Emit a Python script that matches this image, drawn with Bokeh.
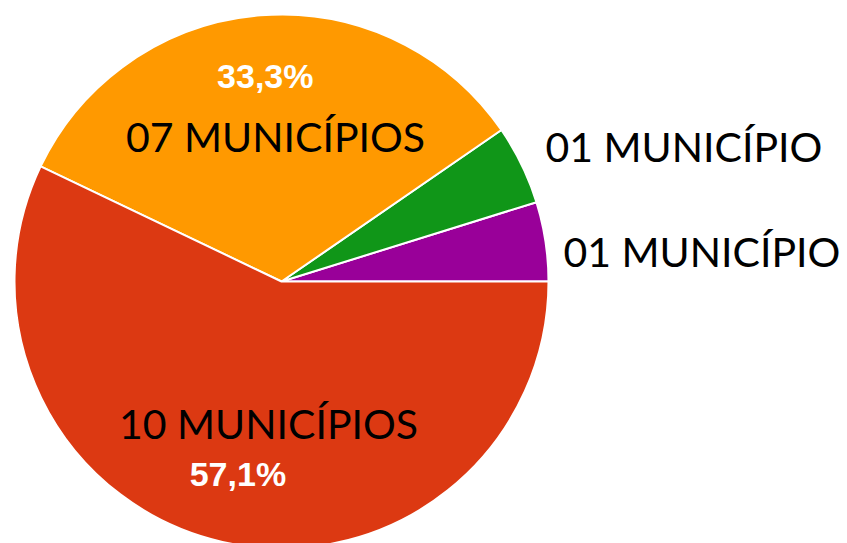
import math
from bokeh.plotting import figure
from bokeh.models import ColumnDataSource, Range1d
from bokeh.core.properties import value
from bokeh.embed import file_html
from bokeh.resources import INLINE

# Data (counter-clockwise from 3 o'clock)
slices = ["purple", "green", "orange", "red"]
percents = [4.8, 4.8, 33.3, 57.1]
colors = ["#990099", "#109618", "#FF9900", "#DC3912"]
pct_labels = ["", "", "33,3%", "57,1%"]
big_labels = ["01 MUNICÍPIO", "01 MUNICÍPIO", "07 MUNICÍPIOS", "10 MUNICÍPIOS"]

W, H = 847, 543
cx, cy, R = 281, H - 281, 267

total = sum(percents)
starts, ends = [], []
acc = 0.0
for v in percents:
    starts.append(2 * math.pi * acc / total)
    acc += v
    ends.append(2 * math.pi * acc / total)

p = figure(width=W, height=H, output_backend="svg", toolbar_location=None,
           x_range=Range1d(0, W), y_range=Range1d(0, H), min_border=0)
p.axis.visible = False
p.grid.visible = False
p.outline_line_color = None
p.background_fill_color = "white"

src = ColumnDataSource(dict(start=starts, end=ends, color=colors))
p.wedge(x=cx, y=cy, radius=R, start_angle="start", end_angle="end",
        fill_color="color", line_color="white", line_width=2, source=src)

# percent labels inside slices, along mid-angle
label_r = [0.75, 0.75, 0.773, 0.738]
px, py, pt = [], [], []
for s, e, t, fr in zip(starts, ends, pct_labels, label_r):
    if not t:
        continue
    m = (s + e) / 2
    px.append(cx + fr * R * math.cos(m))
    py.append(cy + fr * R * math.sin(m))
    pt.append(t)
p.text(x=px, y=py, text=pt, text_color="white", text_font=value("Liberation Sans"),
       text_font_style="bold", text_font_size="34px", text_align="center",
       text_baseline="middle", y_offset=0)

# annotation labels
bx = [563, 545, 275, 268]
by = [H - 251, H - 146, H - 136, H - 423]
align = ["left", "left", "center", "center"]
p.text(x=bx, y=by, text=big_labels, text_color="black", text_font=value("Lato"),
       text_font_size="41px", text_align=align, text_baseline="alphabetic")

open("out.html", "w").write(file_html(p, INLINE))
